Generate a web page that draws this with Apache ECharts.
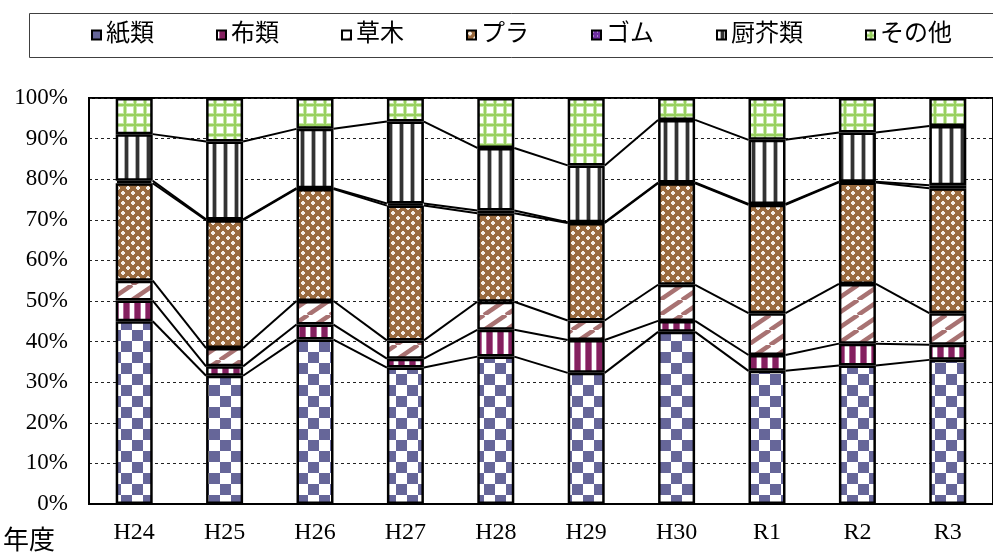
<!DOCTYPE html>
<html>
<head>
<meta charset="utf-8">
<script src="https://cdn.jsdelivr.net/npm/echarts@6/dist/echarts.min.js"></script>
<style>
  html, body { margin: 0; padding: 0; background: #fff; }
  #chart { width: 993px; height: 552px; }
</style>
</head>
<body>
<div id="chart"></div>
<script>
// 年度別ごみ組成割合（%）
const years = ['H24', 'H25', 'H26', 'H27', 'H28', 'H29', 'H30', 'R1', 'R2', 'R3'];
const paper   = [45.0, 31.6, 40.5, 33.6, 36.3, 32.3, 42.4, 32.8, 34.1, 35.5]; // 紙類
const cloth   = [5.1, 2.3, 3.7, 2.2, 6.6, 8.1, 2.7, 3.9, 5.4, 3.7];         // 布類
const plants  = [4.9, 4.5, 5.8, 4.5, 6.9, 4.8, 8.9, 10.3, 14.7, 7.8];       // 草木
const plastic = [24.0, 31.5, 27.6, 33.2, 21.8, 24.0, 25.0, 26.7, 25.0, 30.8]; // プラ
const rubber  = [0.6, 0.2, 0.2, 0.5, 0.7, 0.2, 0.2, 0.2, 0.2, 0.7];         // ゴム
const kitchen = [11.5, 19.2, 14.6, 20.2, 15.4, 14.0, 15.4, 15.8, 12.1, 14.6]; // 厨芥類
const others  = [8.9, 10.7, 7.6, 5.8, 12.3, 16.6, 5.4, 10.3, 8.5, 6.9];     // その他
const seriesNames = ['紙類', '布類', '草木', 'プラ', 'ゴム', '厨芥類', 'その他'];
const seriesValues = [paper, cloth, plants, plastic, rubber, kitchen, others];

const BAR_W = 37;
const FONT = "'Liberation Serif', 'Noto Sans CJK JP', serif";

// --- fill patterns ---------------------------------------------------------
function tile(w, h, draw) {
  const c = document.createElement('canvas');
  c.width = w; c.height = h;
  const ctx = c.getContext('2d');
  draw(ctx, w, h);
  return { image: c, repeat: 'repeat' };
}
const patterns = [
  // checkerboard
  tile(22, 22, (g) => {
    g.fillStyle = '#fff'; g.fillRect(0, 0, 22, 22);
    g.fillStyle = '#666699';
    g.fillRect(0, 0, 11, 11); g.fillRect(11, 11, 11, 11);
  }),
  // vertical purple stripes
  tile(11, 4, (g) => {
    g.fillStyle = '#fff'; g.fillRect(0, 0, 11, 4);
    g.fillStyle = '#b36a9a'; g.fillRect(2, 0, 7, 4);
    g.fillStyle = '#84205f'; g.fillRect(3, 0, 5, 4);
  }),
  // upward diagonal stripes
  tile(22, 15, (g) => {
    g.fillStyle = '#fff'; g.fillRect(0, 0, 22, 15);
    g.strokeStyle = '#a87272'; g.lineWidth = 4.5;
    for (const dx of [-22, 0, 22]) {
      g.beginPath(); g.moveTo(dx, 15); g.lineTo(dx + 22, 0); g.stroke();
    }
  }),
  // brown with white crosses
  tile(10, 10, (g) => {
    g.fillStyle = '#9a6a3e'; g.fillRect(0, 0, 10, 10);
    g.fillStyle = '#f4ece4';
    const cross = (x, y) => { g.fillRect(x - 1, y - 2, 2, 4); g.fillRect(x - 2, y - 1, 4, 2); };
    cross(3, 3); cross(8, 8);
  }),
  // purple with small dots
  tile(4, 4, (g) => {
    g.fillStyle = '#7030a0'; g.fillRect(0, 0, 4, 4);
    g.fillStyle = '#e6d0f0'; g.fillRect(1, 1, 1, 1);
  }),
  // white with dark vertical lines
  tile(11, 4, (g) => {
    g.fillStyle = '#fff'; g.fillRect(0, 0, 11, 4);
    g.fillStyle = '#b0b0b0'; g.fillRect(3, 0, 5, 4);
    g.fillStyle = '#333'; g.fillRect(4, 0, 3, 4);
  }),
  // green grid
  tile(10, 10, (g) => {
    g.fillStyle = '#fff'; g.fillRect(0, 0, 10, 10);
    g.fillStyle = '#c8e8a8'; g.fillRect(0, 3, 10, 4); g.fillRect(3, 0, 4, 10);
    g.fillStyle = '#98d060'; g.fillRect(0, 4, 10, 2); g.fillRect(4, 0, 2, 10);
  })
];

// cumulative tops of each stack layer (for the connecting series lines)
const cumulative = [];
seriesValues.reduce((acc, vals) => {
  const next = acc.map((v, i) => v + vals[i]);
  cumulative.push(next);
  return next;
}, years.map(() => 0));

const barSeries = seriesNames.map((name, k) => ({
  name,
  type: 'bar',
  stack: 'total',
  barWidth: BAR_W,
  data: seriesValues[k],
  itemStyle: { color: patterns[k], borderColor: '#000', borderWidth: 2.5 },
  emphasis: { disabled: true },
  z: 3
}));

const seriesLines = {
  type: 'custom',
  name: 'series-lines',
  data: years.slice(0, -1).map((y, i) => [i, 0]),
  encode: { x: 0, y: 1 },
  z: 2,
  silent: true,
  renderItem: (params, api) => {
    const i = params.dataIndex;
    const half = BAR_W / 2;
    const children = [];
    for (let k = 0; k < cumulative.length - 1; k++) {
      const a = api.coord([i, cumulative[k][i]]);
      const b = api.coord([i + 1, cumulative[k][i + 1]]);
      children.push({
        type: 'line',
        shape: { x1: a[0] + half, y1: a[1], x2: b[0] - half, y2: b[1] },
        style: { stroke: '#000', lineWidth: 2 }
      });
    }
    return { type: 'group', children };
  }
};

const chart = echarts.init(document.getElementById('chart'), null, { renderer: 'canvas' });
chart.setOption({
  animation: false,
  backgroundColor: '#fff',
  textStyle: { fontFamily: FONT, color: '#000' },
  grid: {
    left: 89, top: 98, width: 910, height: 406,
    show: true, borderColor: '#000', borderWidth: 2, backgroundColor: 'transparent'
  },
  legend: {
    data: seriesNames,
    left: 91, top: 23, padding: 0,
    itemWidth: 9, itemHeight: 9, itemGap: 62,
    icon: 'rect',
    itemStyle: { borderColor: '#000', borderWidth: 2 },
    textStyle: { fontFamily: FONT, fontSize: 24, color: '#000' }
  },
  xAxis: {
    type: 'category',
    data: years,
    axisLine: { lineStyle: { color: '#000', width: 2 } },
    axisTick: { inside: true, length: 7, lineStyle: { color: '#000', width: 1.5 } },
    axisLabel: { fontFamily: FONT, fontSize: 24, color: '#000', margin: 17 }
  },
  yAxis: {
    type: 'value',
    min: 0, max: 100, interval: 10,
    axisLine: { show: true, lineStyle: { color: '#000', width: 2 } },
    axisTick: { show: false },
    splitLine: { lineStyle: { color: '#222', width: 1, type: [3, 3] } },
    axisLabel: { formatter: '{value}%', fontFamily: FONT, fontSize: 23, color: '#000', margin: 21 }
  },
  graphic: [
    {
      type: 'rect', silent: true, z: -1,
      shape: { x: 29.5, y: 13.5, width: 1000, height: 44 },
      style: { fill: '#fff', stroke: '#404040', lineWidth: 1 }
    },
    {
      type: 'text', left: 3, top: 526,
      style: { text: '年度', font: "26px 'Noto Sans CJK JP'", fill: '#000' }
    }
  ],
  series: [...barSeries, seriesLines]
});
</script>
</body>
</html>
